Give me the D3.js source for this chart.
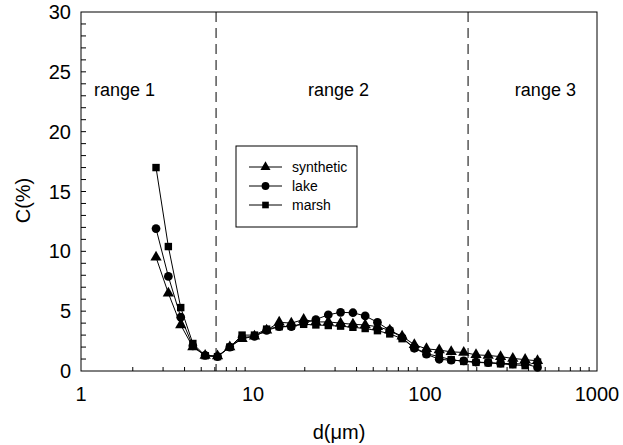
<!DOCTYPE html>
<html>
<head>
<meta charset="utf-8">
<script src="https://cdn.jsdelivr.net/npm/d3@7.9.0/dist/d3.min.js"></script>
<style>
  body { margin: 0; background: #fff; }
  svg text { font-family: "Liberation Sans", Arial, sans-serif; fill: #000; }
</style>
</head>
<body>
<svg id="chart" width="623" height="445"></svg>
<script>
// particle size bins (um)
const sizes = [2.73, 3.22, 3.80, 4.47, 5.27, 6.22, 7.33, 8.64, 10.2, 12.0,
  14.2, 16.7, 19.7, 23.2, 27.4, 32.3, 38.1, 44.9, 52.9, 62.4,
  73.6, 86.7, 102, 121, 142, 168, 198, 233, 275, 324, 382, 451];

const synthetic = [9.5, 6.5, 3.85, 2.0, 1.3, 1.25, 2.0, 2.7, 2.9, 3.4,
  4.07, 4.0, 4.3, 4.1, 4.1, 4.0, 3.9, 3.85, 3.7, 3.4,
  2.9, 2.2, 1.85, 1.75, 1.6, 1.55, 1.35, 1.3, 1.2, 1.05, 0.95, 0.85];

const lake = [11.9, 7.9, 4.5, 2.1, 1.3, 1.2, 2.0, 2.8, 2.9, 3.4,
  3.7, 3.7, 4.0, 4.3, 4.7, 4.9, 4.87, 4.6, 4.07, 3.4,
  2.8, 1.9, 1.4, 0.98, 0.9, 0.85, 0.75, 0.7, 0.65, 0.6, 0.6, 0.3];

const marsh = [17.0, 10.4, 5.3, 2.3, 1.28, 1.2, 2.0, 3.0, 3.0, 3.5,
  3.7, 3.75, 3.9, 3.85, 3.8, 3.75, 3.65, 3.55, 3.37, 3.1,
  2.7, 1.95, 1.45, 1.2, 0.95, 0.8, 0.72, 0.68, 0.6, 0.52, 0.45, 0.75];

const seriesNames = ['synthetic', 'lake', 'marsh'];
const seriesSymbols = [d3.symbolTriangle, d3.symbolCircle, d3.symbolSquare];
const seriesValues = [synthetic, lake, marsh];

// range boundaries (um) and labels
const boundaries = [6.1, 178];
const rangeLabels = ['range 1', 'range 2', 'range 3'];
const rangeLabelX = [1.19, 20.9, 333];

const xTicks = [1, 10, 100, 1000];
const yTicks = [0, 5, 10, 15, 20, 25, 30];

const svg = d3.select('#chart');
const pLeft = 81, pRight = 597, pTop = 12, pBottom = 371;

const x = d3.scaleLog().domain([1, 1000]).range([pLeft, pRight]);
const y = d3.scaleLinear().domain([0, 30]).range([pBottom, pTop]);

// minor ticks
const xMinor = [];
[1, 10, 100].forEach(dec => {
  for (let k = 2; k <= 9; k++) xMinor.push(dec * k);
});
svg.append('g').selectAll('line').data(xMinor).join('line')
  .attr('x1', d => x(d)).attr('x2', d => x(d))
  .attr('y1', pBottom).attr('y2', pBottom - 4)
  .attr('stroke', '#000').attr('stroke-width', 1);

svg.append('g').selectAll('line').data(d3.range(1, 30)).join('line')
  .attr('x1', pLeft).attr('x2', pLeft + 5)
  .attr('y1', d => y(d)).attr('y2', d => y(d))
  .attr('stroke', '#000').attr('stroke-width', 1);

// frame
svg.append('rect')
  .attr('x', pLeft).attr('y', pTop)
  .attr('width', pRight - pLeft).attr('height', pBottom - pTop)
  .attr('fill', 'none').attr('stroke', '#000').attr('stroke-width', 1);

// tick labels
svg.append('g').selectAll('text').data(yTicks).join('text')
  .attr('x', pLeft - 10).attr('y', d => y(d) + 7)
  .attr('text-anchor', 'end').attr('font-size', 20)
  .text(d => d);

svg.append('g').selectAll('text').data(xTicks).join('text')
  .attr('x', d => x(d)).attr('y', pBottom + 30)
  .attr('text-anchor', 'middle').attr('font-size', 20)
  .text(d => d);

// axis titles
svg.append('text')
  .attr('transform', `translate(30,${(pTop + pBottom) / 2 + 9}) rotate(-90)`)
  .attr('text-anchor', 'middle').attr('font-size', 20)
  .text('C(%)');

svg.append('text')
  .attr('x', (pLeft + pRight) / 2).attr('y', 439)
  .attr('text-anchor', 'middle').attr('font-size', 20)
  .text('d(\u03bcm)');

// dashed range boundaries
svg.append('g').selectAll('line').data(boundaries).join('line')
  .attr('x1', d => x(d)).attr('x2', d => x(d))
  .attr('y1', pTop).attr('y2', pBottom)
  .attr('stroke', '#000').attr('stroke-width', 1)
  .attr('stroke-dasharray', '10,6');

svg.append('g').selectAll('text').data(rangeLabels).join('text')
  .attr('x', (d, i) => x(rangeLabelX[i])).attr('y', 96)
  .attr('font-size', 18)
  .text(d => d);

// series
const line = d3.line().x(d => x(d[0])).y(d => y(d[1]));
const markerSize = [55, 60, 55];

seriesValues.forEach((vals, s) => {
  const pts = sizes.map((d, i) => [d, vals[i]]);
  svg.append('path')
    .attr('d', line(pts))
    .attr('fill', 'none').attr('stroke', '#000').attr('stroke-width', 1);
  svg.append('g').selectAll('path').data(pts).join('path')
    .attr('transform', d => `translate(${x(d[0])},${y(d[1])})`)
    .attr('d', d3.symbol().type(seriesSymbols[s]).size(markerSize[s]))
    .attr('fill', '#000');
});

// legend
const lg = svg.append('g');
lg.append('rect')
  .attr('x', 236).attr('y', 146).attr('width', 121).attr('height', 81)
  .attr('fill', '#fff').attr('stroke', '#000').attr('stroke-width', 1);
seriesNames.forEach((name, s) => {
  const ly = 167 + s * 19;
  lg.append('line')
    .attr('x1', 249).attr('x2', 282).attr('y1', ly).attr('y2', ly)
    .attr('stroke', '#000').attr('stroke-width', 1);
  lg.append('path')
    .attr('transform', `translate(265.5,${ly})`)
    .attr('d', d3.symbol().type(seriesSymbols[s]).size(markerSize[s] * 0.8))
    .attr('fill', '#000');
  lg.append('text')
    .attr('x', 292).attr('y', ly + 5)
    .attr('font-size', 14)
    .text(name);
});
</script>
</body>
</html>
